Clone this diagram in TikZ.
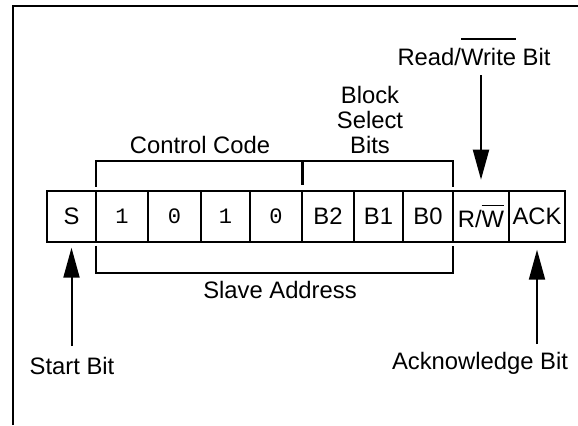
\documentclass[tikz,border=0pt]{standalone}
\usepackage{fontspec}
\setmainfont{Liberation Sans}
\newfontfamily\digitfont{Liberation Mono}
\usetikzlibrary{positioning, arrows.meta}
\newcommand{\barred}[2][4pt]{\vbox{\hrule height 0.9pt\kern#1\hbox{#2}}}

\begin{document}
\begin{tikzpicture}[x=0.5pt, y=-0.5pt,
  font=\fontsize{11.9}{12.5}\selectfont,
  cell/.style={draw, line width=1pt, minimum height=25.5pt, inner sep=0pt, outer sep=0pt},
  digit/.style={cell, font=\digitfont\fontsize{11}{12}\selectfont},
  arr/.style={line width=1pt, -{Triangle[width=8pt, length=15pt]}},
  brk/.style={line width=1pt},
  tick/.style={line width=1.5pt}]
\useasboundingbox (0,0) rectangle (578,425);
% frame
\draw[line width=1pt] (13,425) -- (13,6) -- (578,6);

% the address byte
\node[cell, minimum width=24.5pt] (s) at (71.5,216.2) {S};
\node[digit, minimum width=26pt, right=0pt of s] (one1) {1};
\node[digit, minimum width=26.5pt, right=0pt of one1] (zero1) {0};
\node[digit, minimum width=24.5pt, right=0pt of zero1] (one2) {1};
\node[digit, minimum width=26pt, right=0pt of one2] (zero2) {0};
\node[cell, minimum width=26pt, right=0pt of zero2] (b2) {B2};
\node[cell, minimum width=24.5pt, right=0pt of b2] (b1) {B1};
\node[cell, minimum width=25pt, right=0pt of b1] (b0) {B0};
\node[cell, minimum width=28pt, right=0pt of b0] (rw) {R/\barred[2.5pt]{W}};
\node[cell, minimum width=28pt, right=0pt of rw] (ack) {ACK};

% labels
\node[anchor=base] (rwtxt) at (474,65) {Read/\barred{Write} Bit};
\node[anchor=base, align=center] (bsb) at (370,153) {Block\\Select\\Bits};
\node[anchor=base] (cc) at (200,153) {Control Code};
\node[anchor=base] (sa) at (280,298) {Slave Address};
\node[anchor=base] (start) at (72,374) {Start Bit};
\node[anchor=base] (ackt) at (480,369) {Acknowledge Bit};

% brackets
\draw[brk] ([yshift=2pt]one1.north west) -- ++(0,13pt) -| ([yshift=2pt]b0.north east);
\draw[tick] ([yshift=3pt]zero2.north east) -- ++(0,12.5pt);
\draw[brk] ([yshift=-2pt]one1.south west) -- ++(0,-13.5pt) -| ([yshift=-2pt]b0.south east);

% arrows
\draw[arr] ([yshift=-5pt]rwtxt.base -| rw.north) -- ([yshift=5.5pt]rw.north);
\draw[arr] ([yshift=14pt]start.base -| s.south) -- ([yshift=-3pt]s.south);
\draw[arr] ([yshift=12.5pt]ackt.base -| ack.south) -- ([yshift=-4pt]ack.south);

\end{tikzpicture}
\end{document}
